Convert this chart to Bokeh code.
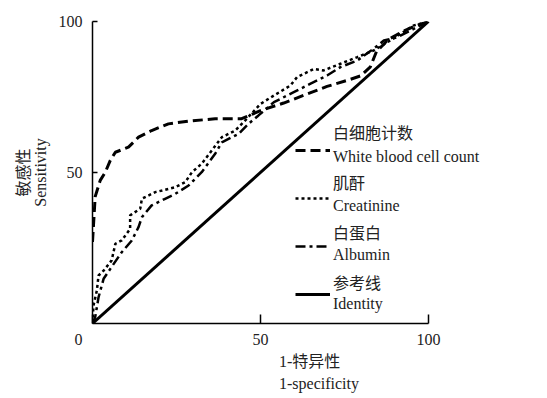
from bokeh.plotting import figure
from bokeh.models import Legend, LegendItem, FixedTicker, Range1d, Title
from bokeh.embed import file_html
from bokeh.resources import INLINE

# ---- data ----
wbc_x = [0, 0.8, 2.3, 3.8, 5.3, 6.8, 10.7, 13.7, 17.6, 22.6, 28.6, 36.5, 44.4,
         50, 56.9, 63.9, 69.8, 75.8, 79.8, 82.7, 84.5, 88, 92, 96, 100]
wbc_y = [27, 42, 47.4, 50.1, 54, 56.7, 58.4, 61.7, 63.9, 66.1, 67, 67.8, 67.8,
         70.5, 73, 76, 78.5, 80.5, 82, 85, 90, 94, 96.5, 98.5, 100]

cre_x = [0, 0.3, 1.3, 1.8, 3.3, 5.7, 6.8, 8.7, 11.2, 11.2, 14.2, 14.7, 18.7, 24.6,
         27.6, 29.6, 32.5, 35.5, 38.5, 42.5, 45.4, 50, 54, 58.9, 60.9, 65.9, 68.8,
         73.8, 78.8, 83.7, 87.7, 91.7, 95.6, 100]
cre_y = [0, 6, 10.9, 15.9, 17.5, 20.9, 26.4, 27.5, 31.3, 35.8, 38, 41.3, 43.5, 45.1,
         46.8, 50.1, 52.9, 57.3, 61.7, 63.9, 67.2, 72.7, 75.5, 78.8, 81.6, 84.3, 83.8,
         86, 88.2, 90.4, 93.1, 95.9, 98.7, 100]

alb_x = [0, 0.8, 1.8, 3.3, 5.3, 8.7, 11.7, 13.7, 14.7, 17.6, 21.6, 24.6, 28.6, 32.5,
         36.5, 38.5, 43.5, 46.4, 49.4, 54, 59.9, 64.9, 69.8, 73.8, 78.8, 83.7, 86.7,
         90.7, 94.6, 100]
alb_y = [0, 2.1, 8.7, 14.8, 18.1, 23.6, 27.5, 31.9, 35.2, 39.1, 41.3, 42.9, 45.7, 50.1,
         56.2, 60, 62.8, 66.1, 68.9, 73.3, 76.6, 79.4, 82.1, 84.9, 87.1, 91, 93.7,
         94.8, 97, 100]

ref_x = [0, 100]
ref_y = [0, 100]

x_ticks = [0, 50, 100]
y_ticks = [50, 100]

legend_cn = ["白细胞计数", "肌酐", "白蛋白", "参考线"]
legend_en = ["White blood cell count", "Creatinine", "Albumin", "Identity"]
x_title = "1-特异性\n1-specificity"
y_title = "敏感性\nSensitivity"

SERIF = "'Liberation Serif', 'Noto Sans CJK SC', serif"
TXT = "#222222"
FS = "16px"

W, H = 545, 396
# frame spans 92..W horizontally; 0..100 occupies 336 px
x_end = 100.0 * (W - 92) / 336.0

p = figure(width=W, height=H,
           x_range=Range1d(0, x_end), y_range=Range1d(0, 100),
           output_backend="svg", toolbar_location=None,
           min_border_left=92, min_border_top=21, min_border_bottom=H - 323,
           min_border_right=0)
p.outline_line_color = None
p.grid.visible = False
p.background_fill_color = "white"
p.border_fill_color = "white"

for ax in (p.xaxis[0], p.yaxis[0]):
    ax.axis_line_color = "black"
    ax.axis_line_width = 1.5
    ax.major_tick_line_color = "black"
    ax.major_tick_line_width = 1.5
    ax.minor_tick_line_color = None
    ax.major_tick_out = 0
    ax.major_label_text_font = SERIF
    ax.major_label_text_font_size = FS
    ax.major_label_text_color = TXT
    ax.axis_label_text_font = SERIF
    ax.axis_label_text_font_size = FS
    ax.axis_label_text_font_style = "normal"
    ax.axis_label_text_color = TXT
p.xaxis[0].bounds = (0, 100)
p.xaxis[0].ticker = FixedTicker(ticks=x_ticks)
p.yaxis[0].ticker = FixedTicker(ticks=y_ticks)
p.xaxis[0].major_label_overrides = {0: "0" + "\u00a0" * 7}
p.xaxis[0].major_tick_in = 9
p.yaxis[0].major_tick_in = 5
p.xaxis[0].major_label_standoff = 7
p.yaxis[0].major_label_standoff = 10
p.yaxis[0].axis_label = y_title
p.yaxis[0].axis_label_text_line_height = 1.0
p.yaxis[0].axis_label_standoff = 7

xt = Title(text=x_title, align="center", offset=260 - (92 + W) / 2.0,
           text_font=SERIF, text_font_size=FS, text_font_style="normal",
           text_color=TXT, text_line_height=1.33, standoff=0)
p.add_layout(xt, "below")

r_wbc = p.line(wbc_x, wbc_y, line_color="black", line_width=3, line_dash="10 5")
r_cre = p.line(cre_x, cre_y, line_color="black", line_width=2.5, line_dash="3 3")
r_alb = p.line(alb_x, alb_y, line_color="black", line_width=2.5, line_dash="10 4 3 4")
r_ref = p.line(ref_x, ref_y, line_color="black", line_width=3)
rends = [r_wbc, r_cre, r_alb, r_ref]

common = dict(padding=0, margin=0, border_line_alpha=0, background_fill_alpha=0,
              label_text_font=SERIF, label_text_font_size=FS,
              label_text_color=TXT, label_height=20, glyph_height=20)

# line samples only
leg_glyph = Legend(items=[LegendItem(label=" ", renderers=[r]) for r in rends],
                   location=(203, 19), spacing=28, glyph_width=35,
                   label_standoff=0, **common)
# English line of each entry
leg_en = Legend(items=[LegendItem(label=t, renderers=[r])
                       for t, r in zip(legend_en, rends)],
                location=(241, 9), spacing=29, glyph_width=0,
                label_standoff=0, **common)
# Chinese line of each entry
leg_cn = Legend(items=[LegendItem(label=t, renderers=[r])
                       for t, r in zip(legend_cn, rends)],
                location=(241, 29), spacing=26, glyph_width=0,
                label_standoff=0, **common)
p.add_layout(leg_glyph)
p.add_layout(leg_en)
p.add_layout(leg_cn)

open("out.html", "w").write(file_html(p, INLINE))
